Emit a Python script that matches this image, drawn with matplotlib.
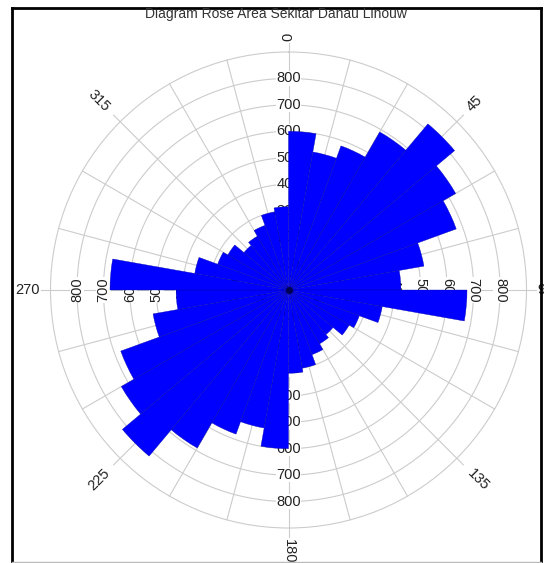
import numpy as np
import matplotlib.pyplot as plt

plt.rcParams['font.family'] = ['Liberation Sans', 'DejaVu Sans']

# Rose data: 10 degree sectors, the diagram is bidirectional so 180-360 mirrors 0-180
sector_deg = np.arange(0, 360, 10)
half_counts = [600, 530, 580, 690, 820, 730, 675, 520, 425,
               675, 360, 285, 265, 220, 235, 260, 300, 315]
counts = half_counts + half_counts

ring_values = [100, 200, 300, 400, 500, 600, 700, 800]
ring_labels = ['100', '200', '300', '400', '500', '600', '700', '800']
angle_ticks = [0, 45, 90, 135, 180, 225, 270, 315]
title = 'Diagram Rose Area Sekitar Danau Linouw'

grid_col = '#cccccc'

fig = plt.figure(figsize=(5.44, 5.63), dpi=100)
ax = fig.add_axes([50.5 / 544, 35 / 563, 476 / 544, 476 / 563], projection='polar')
ax.set_theta_zero_location('N')
ax.set_theta_direction(-1)
ax.set_ylim(0, 900)
ax.set_xticks([])
ax.set_yticks([])
ax.grid(False)
ax.spines['polar'].set_color(grid_col)
ax.spines['polar'].set_linewidth(0.8)

# rings
full = np.linspace(0, 2 * np.pi, 361)
for r in ring_values:
    ax.plot(full, np.full_like(full, r), color=grid_col, lw=0.8, zorder=1)

# spokes every 15 degrees, the 45 degree ones run out to the labels
for a in range(0, 360, 15):
    rmax = 935 if a % 45 == 0 else 900
    ax.plot([np.radians(a)] * 2, [0, rmax], color=grid_col, lw=0.8,
            zorder=1, clip_on=False)

# radial labels along the four main axes
axis_rot = {0: 0, 90: -90, 180: 0, 270: 90}
for a, rot in axis_rot.items():
    for r, lab in zip(ring_values, ring_labels):
        ax.text(np.radians(a), r, lab, rotation=rot, ha='center', va='center',
                fontsize=10.5, color='#222222', zorder=2,
                bbox=dict(facecolor='white', edgecolor='none', pad=0.2))

# angle labels
ang_rot = {0: 90, 45: 45, 90: 0, 135: -45, 180: -90, 225: 45, 270: 0, 315: -45}
ang_align = {0: ('center', 'bottom'), 45: ('left', 'bottom'), 90: ('left', 'center'),
             135: ('left', 'top'), 180: ('center', 'top'), 225: ('right', 'top'),
             270: ('right', 'center'), 315: ('right', 'bottom')}
for a in angle_ticks:
    ha, va = ang_align[a]
    ax.text(np.radians(a), 940, str(a), rotation=ang_rot[a], ha=ha, va=va,
            fontsize=10.5, color='#222222', clip_on=False)

# bars
ax.bar(np.radians(sector_deg), counts, width=np.radians(10), align='edge',
       color='#0000ff', edgecolor='#0000a0', linewidth=0.25, zorder=3)
ax.plot([0], [0], 'o', color='#000050', markersize=4, zorder=4)

fig.text(276 / 544, 1 - 14 / 563, title, ha='center', va='center',
         fontsize=10, color='#333333')

# frame around the figure
fig.add_artist(plt.Line2D([12 / 544, 12 / 544], [0, 1 - 8 / 563], color='black', lw=2))
fig.add_artist(plt.Line2D([12 / 544, 541 / 544], [1 - 8 / 563, 1 - 8 / 563], color='black', lw=2))
fig.add_artist(plt.Line2D([541 / 544, 541 / 544], [0, 1 - 8 / 563], color='black', lw=2))
fig.add_artist(plt.Line2D([12 / 544, 541 / 544], [1 / 563, 1 / 563], color='#bbbbbb', lw=1))

fig.savefig('out.png', dpi=100)
